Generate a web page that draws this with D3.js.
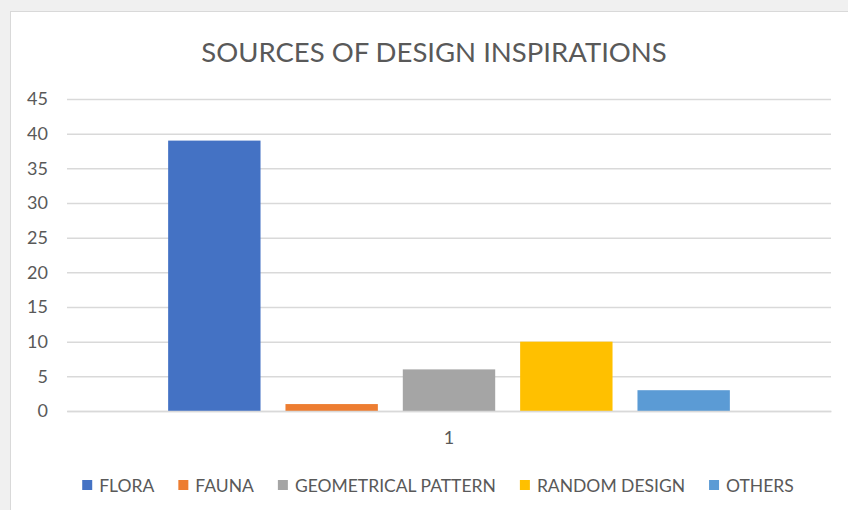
<!DOCTYPE html>
<html>
<head>
<meta charset="utf-8">
<script src="https://cdn.jsdelivr.net/npm/d3@7"></script>
<style>
  body { margin: 0; background: #f0f0f0; }
  text { font-family: "Lato", "Open Sans", sans-serif; fill: #595959; }
</style>
</head>
<body>
<script>
// data
var categories = ["1"];
var series = ["FLORA", "FAUNA", "GEOMETRICAL PATTERN", "RANDOM DESIGN", "OTHERS"];
var values = [39, 1, 6, 10, 3];
var colors = ["#4472C4", "#ED7D31", "#A5A5A5", "#FFC000", "#5B9BD5"];
var yTicks = [0, 5, 10, 15, 20, 25, 30, 35, 40, 45];

var width = 848, height = 510;
var plot = {left: 67, right: 831, top: 99, bottom: 411};

var svg = d3.select("body").append("svg")
    .attr("width", width)
    .attr("height", height);

// chart area
svg.append("rect")
    .attr("x", 10.5).attr("y", 11.5)
    .attr("width", width).attr("height", height)
    .attr("fill", "#fff")
    .attr("stroke", "#d9d9d9");

// title
svg.append("text")
    .attr("x", 434).attr("y", 62)
    .attr("text-anchor", "middle")
    .style("font-size", "27.5px")
    .text("SOURCES OF DESIGN INSPIRATIONS");

var y = d3.scaleLinear().domain([0, 45]).range([plot.bottom, plot.top]);
var x0 = d3.scaleBand().domain(categories).range([plot.left, plot.right]);
var x1 = d3.scaleBand().domain(series).range([0, x0.bandwidth()])
    .paddingInner(0.2126).paddingOuter(0.862);

// gridlines + labels
var yAxis = d3.axisLeft(y).tickValues(yTicks)
    .tickSize(-(plot.right - plot.left)).tickPadding(19);
var gy = svg.append("g").attr("transform", "translate(" + plot.left + ",0)").call(yAxis);
gy.select(".domain").remove();
gy.selectAll(".tick line").attr("stroke", "#d9d9d9").attr("stroke-width", 1.5);
gy.selectAll(".tick text").style("font-size", "18px").attr("fill", "#595959")
    .style("font-family", "Lato, 'Open Sans', sans-serif");

// bars
var grp = svg.append("g").selectAll("g").data(categories).join("g")
    .attr("transform", function(d) { return "translate(" + x0(d) + ",0)"; });
grp.selectAll("rect").data(series.map(function(s, i) { return {s: s, v: values[i], c: colors[i]}; }))
  .join("rect")
    .attr("x", function(d) { return x1(d.s); })
    .attr("y", function(d) { return y(d.v); })
    .attr("width", x1.bandwidth())
    .attr("height", function(d) { return y(0) - y(d.v); })
    .attr("fill", function(d) { return d.c; });

// category axis
var xAxis = d3.axisBottom(x0).tickSize(0).tickPadding(20);
var gx = svg.append("g").attr("transform", "translate(0," + plot.bottom + ")").call(xAxis);
gx.select(".domain").attr("stroke", "#d9d9d9").attr("stroke-width", 1.5);
gx.selectAll(".tick text").style("font-size", "18px").attr("fill", "#595959")
    .style("font-family", "Lato, 'Open Sans', sans-serif");

// legend
var legend = svg.append("g");
var items = legend.selectAll("g").data(series).join("g");
items.append("rect").attr("width", 10).attr("height", 10).attr("y", -12)
    .attr("fill", function(d, i) { return colors[i]; });
items.append("text").attr("x", 17).attr("y", 0)
    .style("font-size", "17.5px")
    .text(function(d) { return d; });
var pos = 0;
items.each(function() {
  var g = d3.select(this);
  g.attr("transform", "translate(" + pos + ",0)");
  pos += 17 + g.select("text").node().getComputedTextLength() + 24;
});
var legendW = pos - 24;
legend.attr("transform", "translate(" + (438 - legendW / 2) + ",492)");
</script>
</body>
</html>
